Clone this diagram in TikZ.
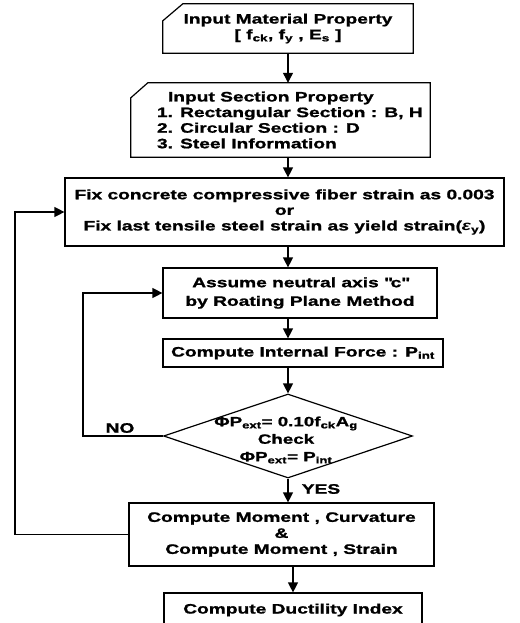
\documentclass[tikz,border=0pt]{standalone}
\usepackage{fontspec}
\setmainfont{Liberation Sans}[FakeStretch=1.4, BoldFeatures={FakeBold=1.2}]
\usetikzlibrary{arrows.meta,shapes.geometric}
% straight double quote, set as a glyph so no text mapping curls it
\newcommand{\sq}{\XeTeXglyph\numexpr\XeTeXcharglyph"22\relax}
\begin{document}
\begin{tikzpicture}[x=1pt,y=-1pt,
  every node/.style={font=\bfseries\fontsize{13.7}{15.6}\selectfont},
  ln/.style={line width=1.2pt},
  box/.style={draw, ln, inner sep=0pt, align=center},
  arr/.style={ln, -{Triangle[width=10pt,length=10pt]}}]

\useasboundingbox (0,0) rectangle (519,623);

% vertical guides for the main flow
\coordinate (spine) at (288,0);
\coordinate (spineb) at (293,0);
\coordinate (noX) at (83,0);
\coordinate (outX) at (15,0);

% manual input: material data
\node (mat) [minimum width=250pt, minimum height=49pt, inner sep=0pt, align=center]
  at (288,28.5) {Input Material Property\\{}[ f\textsubscript{ck}, f\textsubscript{y} , E\textsubscript{s} ]};
\draw[ln] ([xshift=20pt]mat.north west) -- (mat.north east) -- (mat.south east)
  -- (mat.south west) -- ([yshift=-17pt]mat.north west) -- cycle;

% manual input: section data
\node (sec) [minimum width=299pt, minimum height=74pt, inner sep=0pt] at (280.5,120) {};
\draw[ln] ([xshift=17pt]sec.north west) -- (sec.north east) -- (sec.south east)
  -- (sec.south west) -- ([yshift=-15pt]sec.north west) -- cycle;
\node (sectext) [anchor=west, align=left, inner sep=0pt] at ([xshift=26pt]sec.west)
  {\hspace*{11pt}Input Section Property\\1. Rectangular Section : B, H\\2. Circular Section : D\\3. Steel Information};

% process steps
\node (fix) [box, minimum width=439pt, minimum height=68pt] at (284.5,212)
  {Fix concrete compressive fiber strain as 0.003\\or\\Fix last tensile steel strain as yield strain({\itshape ε}\textsubscript{y})};

\node (assume) [box, minimum width=274pt, minimum height=50pt] at (300,293)
  {Assume neutral axis \sq c\sq\\[3pt]by Roating Plane Method};

\node (force) [box, minimum width=280pt, minimum height=28pt] at (303,353)
  {Compute Internal Force : P\textsubscript{int}};

% decision
\node (chk) [draw, ln, diamond, minimum width=249pt, minimum height=84pt, inner sep=0pt] at (288,436) {};
\node (chktext) [align=center, font=\bfseries\fontsize{13.4}{17.5}\selectfont] at (286,440)
  {ΦP\textsubscript{ext}= 0.10f\textsubscript{ck}A\textsubscript{g}\\Check\\ΦP\textsubscript{ext}= P\textsubscript{int}};

\node (mom) [box, minimum width=305pt, minimum height=63pt, font=\bfseries\fontsize{13.7}{16}\selectfont]
  at (281.5,534.5) {Compute Moment , Curvature\\\&\\Compute Moment , Strain};

\node (duct) [box, minimum width=258pt, minimum height=34pt] at (293,610)
  {Compute Ductility Index};

% connectors
\draw[arr] (mat.south -| spine) -- (sec.north -| spine);
\draw[arr] (sec.south -| spine) -- (fix.north -| spine);
\draw[arr] (fix.south -| spine) -- (assume.north -| spine);
\draw[arr] (assume.south -| spine) -- (force.north -| spine);
\draw[arr] (force.south -| chk.north) -- (chk.north);
\draw[arr] (chk.south) -- (mom.north -| chk.south);
\draw[arr] (mom.south -| spineb) -- (duct.north -| spineb);

% loops back
\draw[arr] (chk.west) -- (chk.west -| noX) |- (assume.west);
\draw[arr] (mom.west) -- (mom.west -| outX) |- (fix.west);

% branch labels
\node (no) at (120,428) {NO};
\node (yes) at (321,489) {YES};
\end{tikzpicture}
\end{document}
